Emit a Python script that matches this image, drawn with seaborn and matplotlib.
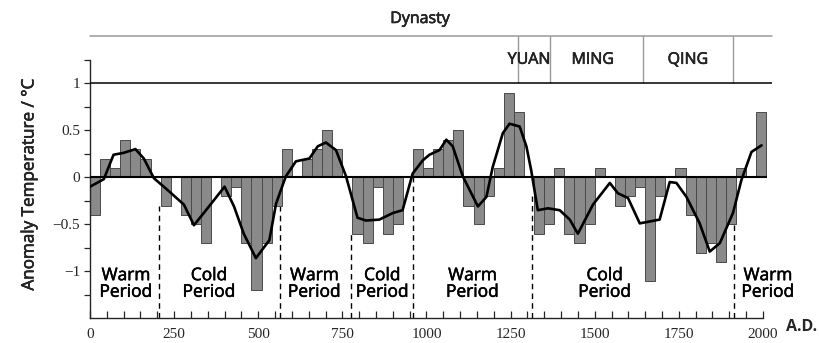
import matplotlib
matplotlib.use("Agg")
import matplotlib.pyplot as plt
import matplotlib.patheffects as pe
import seaborn as sns
import numpy as np
import pandas as pd

# ---------------- data ----------------
bin_width = 30
bar_values = [-0.4, 0.2, 0.1, 0.4, 0.3, 0.2, 0.0, -0.3, 0.0, -0.4,
              -0.5, -0.7, 0.0, -0.2, -0.1, -0.7, -1.2, -0.7, -0.3, 0.3,
              0.0, 0.2, 0.3, 0.5, 0.3, 0.0, -0.6, -0.7, -0.1, -0.6,
              -0.5, 0.0, 0.3, 0.1, 0.3, 0.4, 0.5, -0.3, -0.5, -0.2,
              0.1, 0.9, 0.7, 0.0, -0.6, -0.5, 0.1, -0.6, -0.7, -0.5,
              0.1, 0.0, -0.3, -0.2, -0.1, -1.1, -0.2, 0.0, 0.1, -0.4,
              -0.8, -0.7, -0.9, -0.5, 0.1, 0.0, 0.7]
bar_centers = [bin_width * i + bin_width / 2 for i in range(len(bar_values))]

smooth_years = [0, 41, 70, 100, 135, 160, 190, 229, 279, 309, 358, 400, 428, 457,
                493, 533, 553, 582, 612, 652, 677, 701, 731, 761, 795, 820, 860,
                900, 929, 959, 989, 1009, 1039, 1059, 1078, 1108, 1153, 1178, 1197,
                1227, 1247, 1277, 1297, 1311, 1331, 1361, 1396, 1426, 1450, 1495,
                1545, 1569, 1599, 1634, 1693, 1723, 1743, 1773, 1812, 1842, 1872,
                1911, 1936, 1966, 1996]
smooth_values = [-0.10, -0.02, 0.24, 0.26, 0.30, 0.20, -0.01, -0.13, -0.29, -0.51,
                 -0.29, -0.10, -0.31, -0.60, -0.86, -0.67, -0.28, 0.01, 0.17, 0.20,
                 0.33, 0.37, 0.29, 0.01, -0.43, -0.46, -0.45, -0.38, -0.35, 0.04,
                 0.18, 0.24, 0.29, 0.40, 0.33, 0.01, -0.31, -0.21, 0.11, 0.47, 0.57,
                 0.54, 0.33, 0.08, -0.35, -0.33, -0.35, -0.45, -0.60, -0.29, -0.06,
                 -0.17, -0.22, -0.49, -0.45, -0.05, -0.06, -0.21, -0.49, -0.79,
                 -0.70, -0.38, -0.03, 0.27, 0.34]

period_bounds = [205, 565, 775, 960, 1315, 1915]
period_bound_tops = [-0.3, -0.3, -0.6, 0.0, -0.2, -0.5]
period_centers = [107, 354, 667, 869, 1137, 1530, 2015]
period_labels = ["Warm\nPeriod", "Cold\nPeriod", "Warm\nPeriod", "Cold\nPeriod",
                 "Warm\nPeriod", "Cold\nPeriod", "Warm\nPeriod"]

dynasty_bounds = [1271, 1368, 1644, 1911]
dynasty_names = ["YUAN", "MING", "QING"]
dynasty_label_x = [1305, 1494, 1777]

xticks = [0, 250, 500, 750, 1000, 1250, 1500, 1750, 2000]
yticks = [-1, -0.5, 0, 0.5, 1]
ytick_labels = ["\u22121", "\u22120.5", "0", "0.5", "1"]

# ---------------- style ----------------
sns.set_style("ticks")
plt.rcParams["font.family"] = ["Open Sans", "DejaVu Sans"]
serif = ["Liberation Serif", "DejaVu Serif"]
heavy = [pe.withStroke(linewidth=0.4, foreground="black")]

fig = plt.figure(figsize=(8.19, 3.43), dpi=100)
ax = fig.add_axes([90 / 819, 1 - 318.3 / 343, (772 - 90) / 819, (318.3 - 59.8) / 343])

df = pd.DataFrame({"year": bar_centers, "anom": bar_values})
sns.barplot(data=df, x="year", y="anom", native_scale=True, width=1.0,
            color="#8a8a8a", saturation=1, edgecolor="#4a4a4a", linewidth=0.7,
            errorbar=None, ax=ax, zorder=2)

sns.lineplot(x=smooth_years, y=smooth_values, color="black", lw=1.9, ax=ax,
             zorder=4)

ax.set_xlim(0, 2027)
ax.set_ylim(-1.5, 1.25)

# zero line and 1-line
ax.hlines(0, 0, 2012, color="black", lw=1.5, zorder=3)
ax.axhline(1, color="black", lw=1.1, zorder=3)

# period dashed boundaries
ax.vlines(period_bounds, [-1.5] * len(period_bounds), period_bound_tops,
          colors="black", linestyles=(0, (4, 3)), lw=1.0, zorder=1)
for xc, lab in zip(period_centers, period_labels):
    ax.text(xc, -1.14, lab, ha="center", va="center", fontsize=12.5,
            linespacing=1.05, color="black", clip_on=False, path_effects=heavy)

# dynasty header
ax.plot([0, 2027], [1.503, 1.503], color="#9a9a9a", lw=1.1, clip_on=False)
ax.vlines(dynasty_bounds, 1, 1.503, colors="#9a9a9a", lw=1.0, clip_on=False)
for xd, name in zip(dynasty_label_x, dynasty_names):
    ax.text(xd, 1.25, name, ha="center", va="center", fontsize=11.5,
            clip_on=False, path_effects=heavy)
fig.text(420 / 819, 1 - 19 / 343, "Dynasty", ha="center", va="center",
         fontsize=11.5, path_effects=heavy)

# spines and ticks
sns.despine(ax=ax, top=True, right=True)
ax.spines["left"].set_bounds(-1.5, 1.25)
ax.spines["bottom"].set_bounds(0, 2000)
ax.spines["left"].set_linewidth(1.0)
ax.spines["bottom"].set_linewidth(1.0)
ax.set_xticks(xticks)
ax.set_xticklabels([str(t) for t in xticks], fontfamily=serif, fontsize=11)
ax.set_xticks(np.arange(0, 2001, 50), minor=True)
ax.set_yticks(yticks)
ax.set_yticklabels(ytick_labels, fontfamily=serif, fontsize=11)
ax.set_yticks(np.arange(-1.25, 1.26, 0.5), minor=True)
ax.tick_params(axis="x", which="both", direction="in", length=5, width=0.9, pad=7)
ax.tick_params(axis="y", which="both", direction="out", length=4, width=0.9, pad=3)

ax.set_xlabel("")
ax.set_ylabel("Anomaly Temperature / \u00b0C", fontsize=12.3, path_effects=heavy)
ax.yaxis.set_label_coords(-0.077, 0.52)
fig.text(802 / 819, 1 - 327 / 343, "A.D.", ha="center", va="center",
         fontsize=11.5, fontweight="bold")

fig.savefig("out.png", dpi=100)
